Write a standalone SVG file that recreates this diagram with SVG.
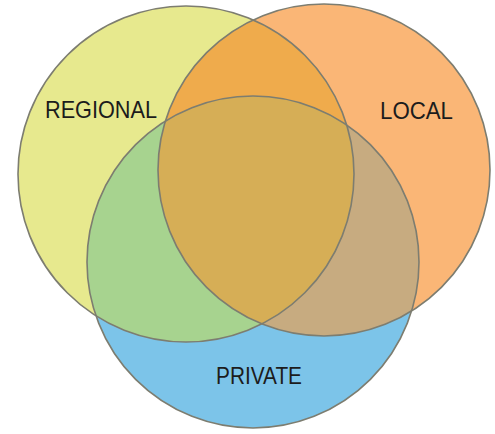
<svg xmlns="http://www.w3.org/2000/svg" width="495" height="434" viewBox="0 0 495 434">
<style>
.lbl{font-family:"Liberation Sans","Open Sans",sans-serif;font-size:24px;fill:#1c1c1c}
.edge{fill:none;stroke:#7d7d70;stroke-width:1.6}
</style>
<defs>
<clipPath id="cY"><circle cx="186" cy="174" r="168"/></clipPath>
<clipPath id="cO"><circle cx="324" cy="170" r="166"/></clipPath>
<clipPath id="cB"><circle cx="253" cy="262" r="166"/></clipPath>
</defs>
<rect width="495" height="434" fill="#ffffff"/>
<g id="regional"><circle cx="186" cy="174" r="168" fill="#e7e98e"/></g>
<g id="local"><circle cx="324" cy="170" r="166" fill="#fab676"/></g>
<g id="private"><circle cx="253" cy="262" r="166" fill="#7cc4e9"/></g>
<g id="overlaps">
<g clip-path="url(#cY)"><circle cx="324" cy="170" r="166" fill="#efab4c"/><circle cx="253" cy="262" r="166" fill="#a7d38f"/></g>
<g clip-path="url(#cO)"><circle cx="253" cy="262" r="166" fill="#c7ab80"/></g>
<g clip-path="url(#cY)"><g clip-path="url(#cO)"><circle cx="253" cy="262" r="166" fill="#d6ae56"/></g></g>
</g>
<g id="connectors">
<circle class="edge" cx="186" cy="174" r="168"/>
<circle class="edge" cx="324" cy="170" r="166"/>
<circle class="edge" cx="253" cy="262" r="166"/>
</g>
<text class="lbl" x="45" y="118" textLength="112" lengthAdjust="spacingAndGlyphs">REGIONAL</text>
<text class="lbl" x="380" y="119" textLength="73" lengthAdjust="spacingAndGlyphs">LOCAL</text>
<text class="lbl" x="216" y="384" textLength="86" lengthAdjust="spacingAndGlyphs">PRIVATE</text>
</svg>
